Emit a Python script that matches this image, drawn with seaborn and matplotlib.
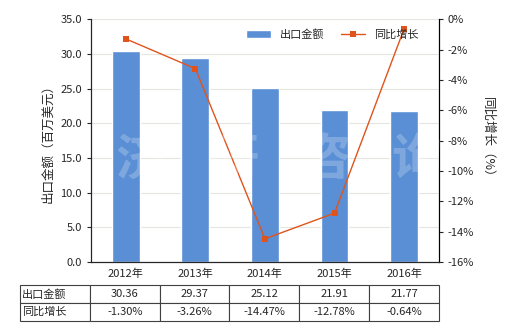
import matplotlib
matplotlib.use("Agg")
import matplotlib.pyplot as plt
import seaborn as sns
import pandas as pd
from matplotlib.ticker import FormatStrFormatter, FuncFormatter

years = ["2012年", "2013年", "2014年", "2015年", "2016年"]
export_value = [30.36, 29.37, 25.12, 21.91, 21.77]
growth = [-1.30, -3.26, -14.47, -12.78, -0.64]
value_labels = ["30.36", "29.37", "25.12", "21.91", "21.77"]
growth_labels = ["-1.30%", "-3.26%", "-14.47%", "-12.78%", "-0.64%"]

sns.set_style("white")
plt.rcParams['font.family'] = ['Noto Sans CJK SC', 'DejaVu Sans']
plt.rcParams['axes.unicode_minus'] = False

df = pd.DataFrame({"year": years, "value": export_value, "growth": growth,
                   "pos": list(range(len(years)))})

fig = plt.figure(figsize=(5.2, 3.3), dpi=100)
ax = fig.add_axes([0.175, 0.206, 0.669, 0.736])

bar_color = "#5a8fd5"
line_color = "#e0541c"

sns.barplot(data=df, x="year", y="value", ax=ax, color=bar_color, width=0.4,
            saturation=1, label="出口金额")
ax.set_ylim(0, 35)
ax.set_yticks([0, 5, 10, 15, 20, 25, 30, 35])
ax.yaxis.set_major_formatter(FormatStrFormatter('%.1f'))
ax.set_xlabel("")
ax.set_ylabel("出口金额（百万美元）", fontsize=9)
ax.grid(axis='y', color='#e6e6e0', linewidth=0.8)
ax.set_axisbelow(True)
ax.tick_params(axis='y', labelsize=8, length=3, direction='out', left=True)
ax.tick_params(axis='x', labelsize=8, length=0, pad=5)
ax.spines["top"].set_visible(False)
for s in ["left", "bottom", "right"]:
    ax.spines[s].set_color("black")
    ax.spines[s].set_linewidth(0.8)

ax2 = ax.twinx()
sns.lineplot(data=df, x="pos", y="growth", ax=ax2, color=line_color, marker='s',
             markersize=4, markeredgewidth=0, linewidth=1, label="同比增长")
ax2.set_ylim(-16, 0)
ax2.set_yticks(list(range(-16, 1, 2)))
ax2.yaxis.set_major_formatter(FuncFormatter(lambda v, p: f"{int(v)}%"))
ax2.set_ylabel("同比增长（%）", fontsize=9, rotation=-90, labelpad=14)
ax2.tick_params(axis='y', labelsize=8, length=3, direction='out')
ax2.spines["top"].set_visible(False)
ax2.spines["right"].set_color("black")
ax2.spines["right"].set_linewidth(0.8)
ax2.set_xlabel("")
ax.set_xlim(-0.5, 4.5)
ax2.set_xlim(-0.5, 4.5)

h1, l1 = ax.get_legend_handles_labels()
h2, l2 = ax2.get_legend_handles_labels()
if ax.get_legend():
    ax.get_legend().remove()
ax2.legend(h1 + h2, l1 + l2, loc='upper right', bbox_to_anchor=(0.97, 1.0),
           ncol=2, frameon=False, fontsize=8, handlelength=2.2, columnspacing=1.5)

# watermark
for xpos, ch in zip([0.27, 0.45, 0.625, 0.80], "济研咨询"):
    fig.text(xpos, 0.515, ch, fontsize=36, color='white', alpha=0.22,
             ha='center', va='center', fontweight='bold')

cell_text = [["出口金额"] + value_labels, ["同比增长"] + growth_labels]
tbl = ax.table(cellText=cell_text, bbox=[-0.204, -0.243, 1.204, 0.148],
               cellLoc='center')
tbl.auto_set_font_size(False)
tbl.set_fontsize(8)
for (r, c), cell in tbl.get_celld().items():
    cell.set_edgecolor('#404040')
    cell.set_linewidth(0.8)
    if c == 0:
        cell.set_text_props(ha='left')
        cell._loc = 'left'
        cell.PAD = 0.03

fig.savefig("out.png", dpi=100)
